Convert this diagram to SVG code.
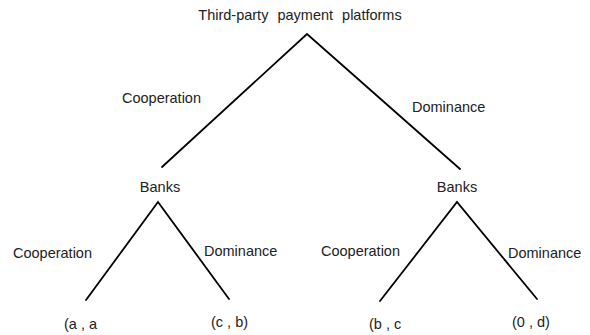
<svg xmlns="http://www.w3.org/2000/svg" width="590" height="335" viewBox="0 0 590 335">
<style>
text{font-family:"Liberation Sans","Noto Sans",sans-serif;font-size:14.5px;fill:#222}
.e{stroke:#000;stroke-width:1.8;fill:none;stroke-linecap:round}
</style>
<rect width="590" height="335" fill="#fff"/>
<g id="root"><text x="300" y="20" text-anchor="middle" word-spacing="5" font-size="15">Third-party payment platforms</text></g>
<g id="banks-left"><text x="160" y="192" text-anchor="middle">Banks</text></g>
<g id="banks-right"><text x="457" y="192" text-anchor="middle">Banks</text></g>
<g id="leaf-aa"><text x="64" y="329">(a , a</text></g>
<g id="leaf-cb"><text x="211" y="327">(c , b)</text></g>
<g id="leaf-bc"><text x="369" y="329">(b , c</text></g>
<g id="leaf-0d"><text x="512" y="327">(0 , d)</text></g>
<g id="connectors">
<path class="e" d="M162 167 L307 34 L460 169"/>
<path class="e" d="M86 300 L158 202 L229 299"/>
<path class="e" d="M380 301 L457 202 L537 299"/>
<text x="122" y="103">Cooperation</text>
<text x="412" y="112">Dominance</text>
<text x="13" y="258">Cooperation</text>
<text x="204" y="256">Dominance</text>
<text x="321" y="256">Cooperation</text>
<text x="508" y="258">Dominance</text>
</g>
</svg>
